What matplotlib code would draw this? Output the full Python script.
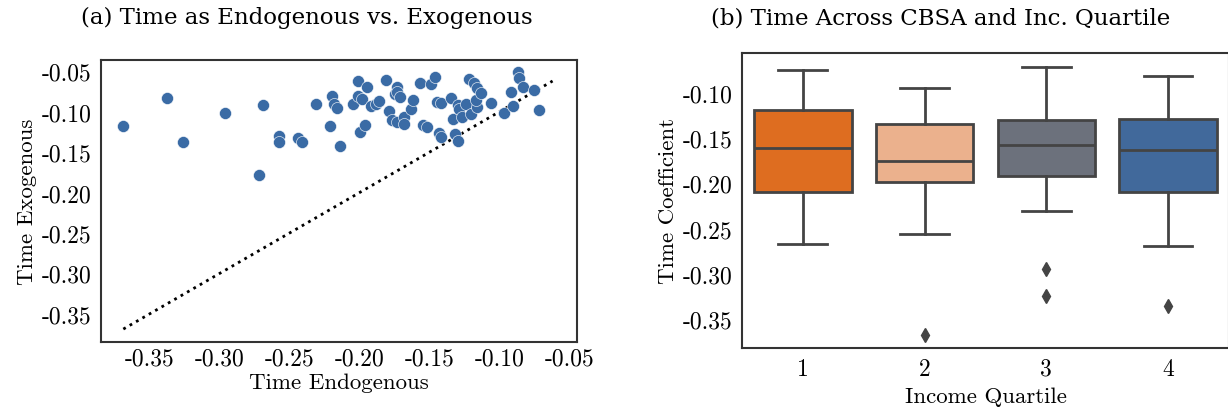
"""Time coefficient: endogenous vs exogenous, and by income quartile"""

import matplotlib
matplotlib.use('Agg')
import matplotlib.pyplot as plt

plt.rcParams['font.family'] = ['cmr10', 'DejaVu Serif']
plt.rcParams['axes.unicode_minus'] = False
plt.rcParams['axes.formatter.use_mathtext'] = False

# scatter: time coefficient with time endogenous (x) vs exogenous (y)
time_endog = [-0.369, -0.338, -0.326, -0.296, -0.272, -0.269, -0.258, -0.258,
              -0.244, -0.241, -0.231, -0.221, -0.220, -0.218, -0.216, -0.214,
              -0.205, -0.201, -0.201, -0.198, -0.200, -0.196, -0.195, -0.192,
              -0.188, -0.186, -0.181, -0.179, -0.177, -0.175, -0.173, -0.173,
              -0.171, -0.173, -0.168, -0.168, -0.163, -0.162, -0.157, -0.155,
              -0.152, -0.149, -0.146, -0.145, -0.142, -0.143, -0.142, -0.135,
              -0.133, -0.132, -0.130, -0.130, -0.129, -0.127, -0.124, -0.122,
              -0.120, -0.118, -0.116, -0.117, -0.116, -0.113, -0.106, -0.097,
              -0.092, -0.090, -0.087, -0.086, -0.083, -0.075, -0.072]
time_exog = [-0.118, -0.083, -0.138, -0.101, -0.178, -0.092, -0.130, -0.138,
             -0.133, -0.138, -0.090, -0.118, -0.080, -0.090, -0.095, -0.142,
             -0.091, -0.062, -0.080, -0.084, -0.125, -0.117, -0.069, -0.093,
             -0.091, -0.087, -0.061, -0.099, -0.110, -0.078, -0.069, -0.075,
             -0.082, -0.113, -0.106, -0.115, -0.097, -0.086, -0.064, -0.116,
             -0.119, -0.066, -0.057, -0.088, -0.089, -0.126, -0.131, -0.083,
             -0.109, -0.128, -0.136, -0.092, -0.097, -0.106, -0.090, -0.060,
             -0.103, -0.065, -0.094, -0.086, -0.071, -0.077, -0.089, -0.101,
             -0.076, -0.093, -0.051, -0.058, -0.069, -0.073, -0.098]
diag = [-0.369, -0.062]

# box plot summary per income quartile
quartiles = ['1', '2', '3', '4']
whislo = [-0.267, -0.256, -0.230, -0.269]
q1 = [-0.210, -0.198, -0.192, -0.210]
med = [-0.161, -0.175, -0.158, -0.163]
q3 = [-0.119, -0.134, -0.130, -0.129]
whishi = [-0.075, -0.095, -0.071, -0.081]
fliers = [[], [-0.367], [-0.294, -0.324], [-0.335]]

box_colors = ['#DE6D20', '#EBB18D', '#6C717C', '#41699B']
edge = '#444444'

fig = plt.figure(figsize=(12.28, 4.10), dpi=100)
ax1 = fig.add_axes([0.0822, 0.1634, 0.3876, 0.6878])
ax2 = fig.add_axes([0.6042, 0.1488, 0.3966, 0.7195])

ax1.scatter(time_endog, time_exog, s=75, color='#3A6BA5',
            edgecolors='white', linewidths=0.4, zorder=3)
ax1.plot(diag, diag, ':', color='black', linewidth=2)
ax1.set_xlim(-0.385, -0.0446)
ax1.set_ylim(-0.385, -0.036)
ax1.set_xticks([-0.35, -0.30, -0.25, -0.20, -0.15, -0.10, -0.05])
ax1.set_yticks([-0.35, -0.30, -0.25, -0.20, -0.15, -0.10, -0.05])
ax1.set_xticklabels(['%.2f' % v for v in ax1.get_xticks()])
ax1.set_yticklabels(['%.2f' % v for v in ax1.get_yticks()])

stats = []
for i in range(len(quartiles)):
    stats.append({'label': quartiles[i], 'whislo': whislo[i], 'q1': q1[i],
                  'med': med[i], 'q3': q3[i], 'whishi': whishi[i],
                  'fliers': fliers[i]})
bp = ax2.bxp(stats, positions=range(len(quartiles)), widths=0.8,
             patch_artist=True,
             boxprops=dict(edgecolor=edge, linewidth=2),
             medianprops=dict(color=edge, linewidth=2),
             whiskerprops=dict(color=edge, linewidth=2),
             capprops=dict(color=edge, linewidth=2),
             flierprops=dict(marker='d', markerfacecolor=edge,
                             markeredgecolor=edge, markersize=7))
for patch, c in zip(bp['boxes'], box_colors):
    patch.set_facecolor(c)
for cap in bp['caps']:
    x = cap.get_xdata()
    mid = (x[0] + x[1]) / 2
    cap.set_xdata([mid - 0.2, mid + 0.2])
ax2.set_xlim(-0.5, 3.5)
ax2.set_ylim(-0.3817, -0.056)
ax2.set_yticks([-0.35, -0.30, -0.25, -0.20, -0.15, -0.10])
ax2.set_yticklabels(['%.2f' % v for v in ax2.get_yticks()])
ax2.set_xticks(range(len(quartiles)))
ax2.set_xticklabels(quartiles)

for ax in (ax1, ax2):
    ax.tick_params(length=0, labelsize=17, pad=7)
    for sp in ax.spines.values():
        sp.set_color('#333333')
        sp.set_linewidth(1.5)
ax1.tick_params(axis='x', pad=4)

ax1.set_xlabel('Time Endogenous', fontsize=16.5, labelpad=2)
ax1.set_ylabel('Time Exogenous', fontsize=16.5, labelpad=3)
ax2.set_xlabel('Income Quartile', fontsize=16.5, labelpad=5)
ax2.set_ylabel('Time Coefficient', fontsize=16.5, labelpad=3)

fig.text(307 / 1228, 1 - 18 / 410, '(a) Time as Endogenous vs. Exogenous',
         ha='center', va='center', fontsize=16.5, family='DejaVu Serif')
fig.text(941 / 1228, 1 - 18 / 410, '(b) Time Across CBSA and Inc. Quartile',
         ha='center', va='center', fontsize=16.5, family='DejaVu Serif')

fig.savefig('out.png', dpi=100)
